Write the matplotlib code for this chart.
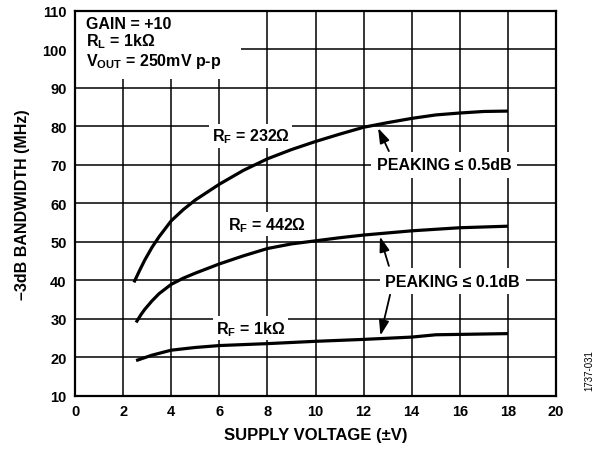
import matplotlib
matplotlib.use('Agg')
import matplotlib.pyplot as plt
from matplotlib.patches import Rectangle

plt.rcParams['font.family'] = ['Liberation Sans', 'DejaVu Sans']
plt.rcParams['font.weight'] = 'bold'
plt.rcParams['mathtext.fontset'] = 'custom'
plt.rcParams['mathtext.rm'] = 'Liberation Sans:bold'
plt.rcParams['mathtext.it'] = 'Liberation Sans:bold'
plt.rcParams['mathtext.bf'] = 'Liberation Sans:bold'

# dados
v_232 = [2.45, 2.7, 2.9, 3.2, 3.5, 4, 4.5, 5, 6, 7, 8, 9, 10, 11, 12, 13, 14, 15, 16, 17, 18]
bw_232 = [39.5, 42.8, 45.3, 48.6, 51.4, 55.5, 58.4, 60.9, 65, 68.6, 71.6, 74, 76.1, 78, 79.8, 81, 82.1, 83, 83.5, 83.9, 84]
v_442 = [2.54, 2.75, 2.9, 3.2, 3.5, 4, 4.5, 5, 6, 7, 8, 9, 10, 11, 12, 14, 16, 18]
bw_442 = [29.1, 31.2, 32.5, 34.7, 36.6, 39.0, 40.6, 41.9, 44.3, 46.4, 48.3, 49.5, 50.3, 51.1, 51.8, 52.9, 53.7, 54.1]
v_1k = [2.54, 3.2, 4, 5, 6, 8, 10, 12, 14, 15, 16, 18]
bw_1k = [19.2, 20.6, 21.9, 22.6, 23.1, 23.6, 24.2, 24.7, 25.3, 25.9, 26.0, 26.2]

xticks = list(range(0, 21, 2))
yticks = list(range(10, 111, 10))

fig = plt.figure(figsize=(6.03, 4.52), dpi=100)
ax = fig.add_axes([0.1244, 0.1217, 0.7977, 0.8518])

ax.plot(v_232, bw_232, color='black', lw=2.3, zorder=3, solid_capstyle='butt')
ax.plot(v_442, bw_442, color='black', lw=2.3, zorder=3, solid_capstyle='butt')
ax.plot(v_1k, bw_1k, color='black', lw=2.3, zorder=3, solid_capstyle='butt')

ax.set_xlim(0, 20)
ax.set_ylim(10, 110)
ax.set_xticks(xticks)
ax.set_yticks(yticks)
ax.tick_params(length=0, labelsize=10.5, pad=6)
for lb in ax.get_xticklabels() + ax.get_yticklabels():
    lb.set_fontweight('bold')
ax.grid(color='black', lw=1.1)
ax.set_axisbelow(True)
for s in ax.spines.values():
    s.set_linewidth(1.6)

ax.set_xlabel('SUPPLY VOLTAGE (±V)', fontsize=12, fontweight='bold', labelpad=6)
ax.set_ylabel('–3dB BANDWIDTH (MHz)', fontsize=11.5, fontweight='bold', labelpad=9)

# caixa branca das condicoes
ax.add_patch(Rectangle((0, 92.3), 6.9, 17.7, facecolor='white', edgecolor='none', zorder=2))
ax.text(0.45, 108.8, 'GAIN = +10\nR$_L$ = 1kΩ\nV$_{OUT}$ = 250mV p-p', fontsize=11.5,
        fontweight='bold', va='top', ha='left', linespacing=1.05, zorder=4)

box = dict(facecolor='white', edgecolor='none', pad=2)
ax.text(7.3, 77.5, 'R$_F$ = 232Ω', fontsize=11.5, ha='center', va='center', bbox=box, zorder=4)
ax.text(8.0, 54.6, 'R$_F$ = 442Ω', fontsize=11.5, ha='center', va='center', bbox=box, zorder=4)
ax.text(7.3, 27.6, 'R$_F$ = 1kΩ', fontsize=11.5, ha='center', va='center', bbox=box, zorder=4)
ax.text(15.35, 70, 'PEAKING ≤ 0.5dB', fontsize=11.5, ha='center', va='center', bbox=dict(facecolor='white', edgecolor='none', pad=4), zorder=4)
ax.text(15.7, 39.8, 'PEAKING ≤ 0.1dB', fontsize=11.5, ha='center', va='center', bbox=dict(facecolor='white', edgecolor='none', pad=4), zorder=4)

arr = dict(arrowstyle='-|>,head_length=0.9,head_width=0.3', color='black', lw=1.3, shrinkA=0, shrinkB=0)
ax.annotate('', xy=(12.6, 79.6), xytext=(13.05, 73.6), arrowprops=arr, zorder=5)
ax.annotate('', xy=(12.68, 51.4), xytext=(13.05, 43.8), arrowprops=arr, zorder=5)
ax.annotate('', xy=(12.7, 25.7), xytext=(13.1, 36.3), arrowprops=arr, zorder=5)

fig.text(0.978, 0.18, '1737-031', rotation=90, fontsize=7, fontweight='normal', ha='center', va='center')

fig.savefig('out.png', dpi=100)
